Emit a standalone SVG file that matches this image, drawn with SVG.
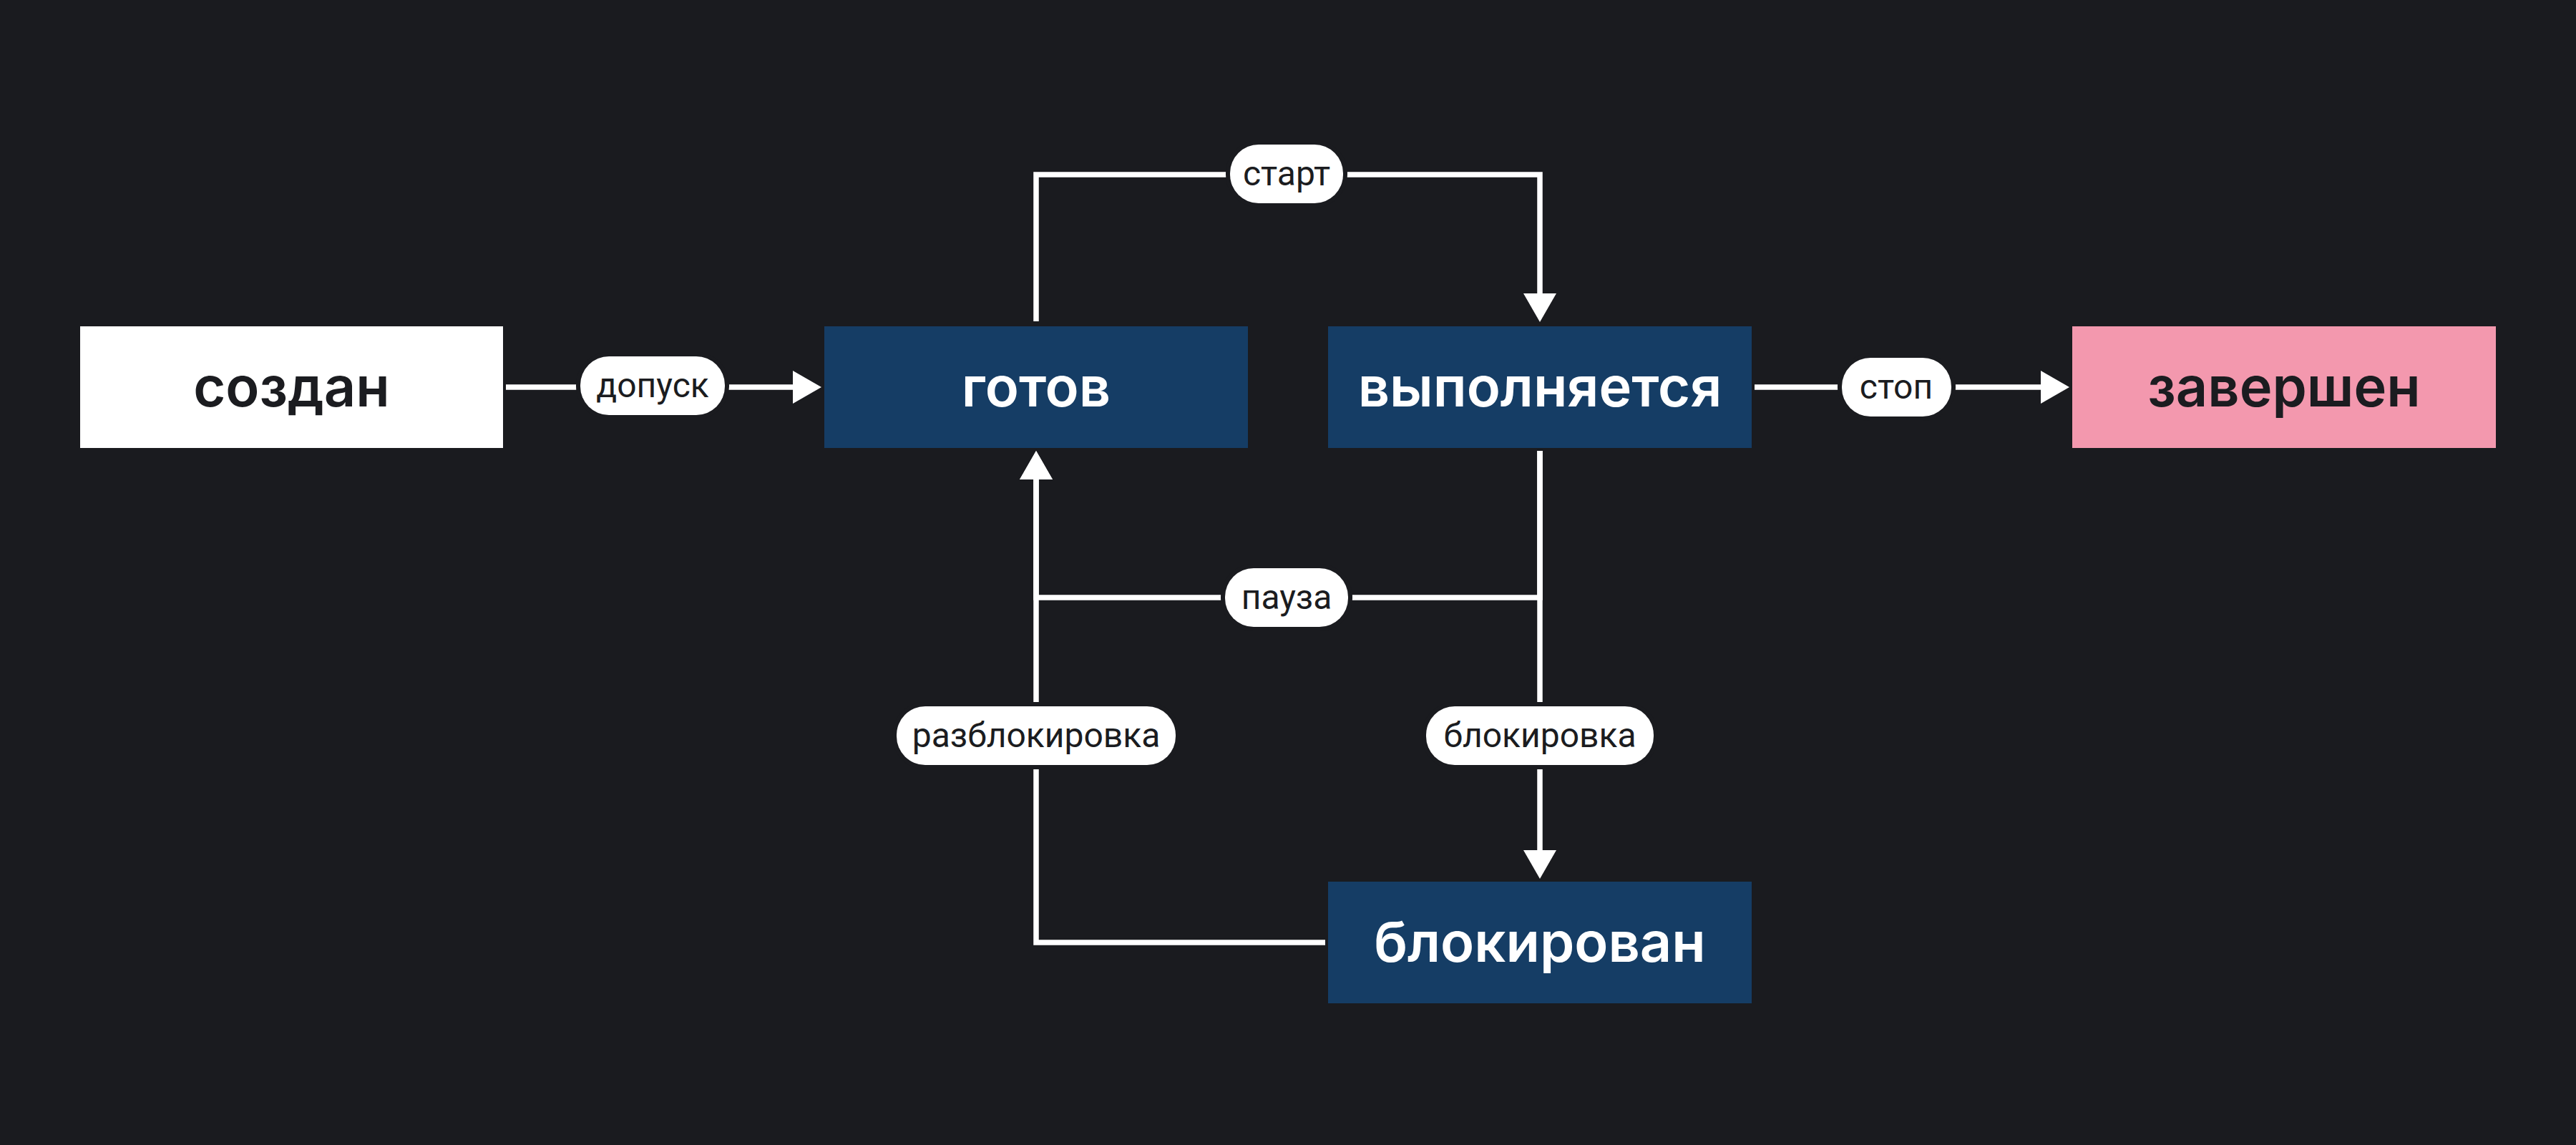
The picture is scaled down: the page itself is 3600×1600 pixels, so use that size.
<svg xmlns="http://www.w3.org/2000/svg" width="3600" height="1600" viewBox="0 0 3600 1600">
  <defs>
    <marker id="arrow" markerUnits="userSpaceOnUse" markerWidth="40" markerHeight="46" refX="0" refY="23" orient="auto" viewBox="0 0 40 46">
      <path d="M0,0 L40,23 L0,46 Z" fill="#ffffff"/>
    </marker>
    <style>
      .bg { fill: #1a1b1f; }
      .node-blue { fill: #153d65; }
      .node-white { fill: #ffffff; }
      .node-pink { fill: #f398ae; }
      .ntext { font-family: Inter, "Liberation Sans", sans-serif; font-weight: 600; font-size: 77.5px; text-anchor: middle; }
      .light { fill: #ffffff; }
      .dark { fill: #1b1c20; }
      .edge { fill: none; stroke: #ffffff; stroke-width: 7.5; stroke-linejoin: miter; stroke-linecap: butt; }
      .halo { fill: #1a1b1f; }
      .pill { fill: #ffffff; }
      .ltext { font-family: Roboto, "Liberation Sans", sans-serif; font-weight: 400; font-size: 48px; text-anchor: middle; fill: #1b1c20; }
    </style>
  </defs>
  <rect class="bg" x="0" y="0" width="3600" height="1600"/>

  <g id="connectors">
    <path class="edge" d="M707,541 H1108" marker-end="url(#arrow)"/>
    <path class="edge" d="M1448,449 V244 H2152 V410" marker-end="url(#arrow)"/>
    <path class="edge" d="M2452,541 H2852" marker-end="url(#arrow)"/>
    <path class="edge" d="M2152,630 V835 H1448 V670" marker-end="url(#arrow)"/>
    <path class="edge" d="M2152,630 V1188" marker-end="url(#arrow)"/>
    <path class="edge" d="M1852,1317 H1448 V670" marker-end="url(#arrow)"/>
  </g>

  <g id="labels">
    <g id="label-dopusk">
      <rect class="halo" x="805" y="492" width="214" height="94" rx="46"/>
      <rect class="pill" x="811" y="498" width="202" height="82" rx="40"/>
      <text class="ltext" x="912" y="555">допуск</text>
    </g>
    <g id="label-start">
      <rect class="halo" x="1713" y="196" width="170" height="94" rx="46"/>
      <rect class="pill" x="1719" y="202" width="158" height="82" rx="40"/>
      <text class="ltext" x="1798" y="259">старт</text>
    </g>
    <g id="label-stop">
      <rect class="halo" x="2568" y="494" width="165" height="94" rx="46"/>
      <rect class="pill" x="2574" y="500" width="153" height="82" rx="40"/>
      <text class="ltext" x="2650" y="557">стоп</text>
    </g>
    <g id="label-pause">
      <rect class="halo" x="1706" y="788" width="184" height="94" rx="46"/>
      <rect class="pill" x="1712" y="794" width="172" height="82" rx="40"/>
      <text class="ltext" x="1798" y="851">пауза</text>
    </g>
    <g id="label-unblock">
      <rect class="halo" x="1247" y="981" width="402" height="94" rx="46"/>
      <rect class="pill" x="1253" y="987" width="390" height="82" rx="40"/>
      <text class="ltext" x="1448" y="1044">разблокировка</text>
    </g>
    <g id="label-block">
      <rect class="halo" x="1987" y="981" width="330" height="94" rx="46"/>
      <rect class="pill" x="1993" y="987" width="318" height="82" rx="40"/>
      <text class="ltext" x="2152" y="1044">блокировка</text>
    </g>
  </g>

  <g id="node-created">
    <rect class="node-white" x="112" y="456" width="591" height="170"/>
    <text class="ntext dark" x="407.5" y="568">создан</text>
  </g>
  <g id="node-ready">
    <rect class="node-blue" x="1152" y="456" width="592" height="170"/>
    <text class="ntext light" x="1448" y="568">готов</text>
  </g>
  <g id="node-running">
    <rect class="node-blue" x="1856" y="456" width="592" height="170"/>
    <text class="ntext light" x="2152" y="568">выполняется</text>
  </g>
  <g id="node-finished">
    <rect class="node-pink" x="2896" y="456" width="592" height="170"/>
    <text class="ntext dark" x="3192" y="568">завершен</text>
  </g>
  <g id="node-blocked">
    <rect class="node-blue" x="1856" y="1232" width="592" height="170"/>
    <text class="ntext light" x="2152" y="1344">блокирован</text>
  </g>
</svg>
